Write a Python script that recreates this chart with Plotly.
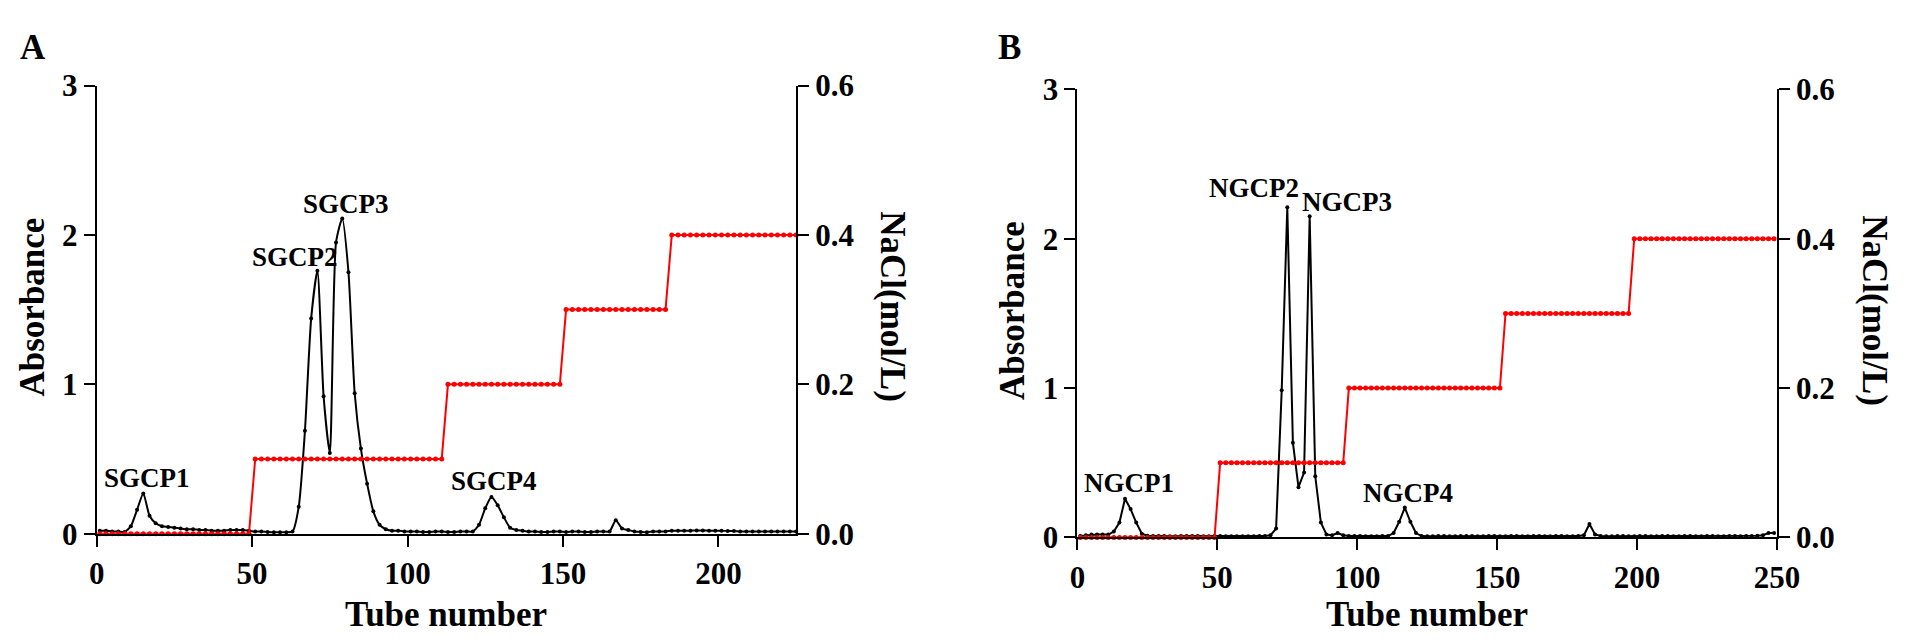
"""Ion-exchange elution profiles (panels A and B): absorbance plus NaCl step gradient."""

import plotly.graph_objects as go

# ---- panel A: tubes sampled every 2 ----------------------------------------------------------
tubes_a = list(range(1, 226, 2))
absorb_a = [
    0.02, 0.02, 0.015, 0.015, 0.012, 0.05, 0.16, 0.27, 0.12, 0.07,
    0.05, 0.045, 0.04, 0.035, 0.03, 0.03, 0.025, 0.025, 0.02, 0.02,
    0.02, 0.025, 0.025, 0.025, 0.02, 0.015, 0.015, 0.012, 0.01, 0.01,
    0.01, 0.015, 0.18, 0.69, 1.44, 1.76, 0.92, 0.54, 1.95, 2.11,
    1.75, 0.94, 0.57, 0.335, 0.15, 0.06, 0.03, 0.02, 0.02, 0.015,
    0.015, 0.015, 0.012, 0.012, 0.015, 0.015, 0.012, 0.012, 0.015, 0.015,
    0.015, 0.06, 0.17, 0.245, 0.19, 0.11, 0.04, 0.025, 0.02, 0.015,
    0.015, 0.012, 0.012, 0.015, 0.015, 0.012, 0.015, 0.015, 0.012, 0.012,
    0.015, 0.015, 0.015, 0.09, 0.035, 0.025, 0.015, 0.012, 0.01, 0.015,
    0.015, 0.015, 0.02, 0.02, 0.02, 0.02, 0.022, 0.022, 0.02, 0.02,
    0.02, 0.018, 0.018, 0.015, 0.015, 0.015, 0.015, 0.015, 0.015, 0.015,
    0.015, 0.015, 0.015,
]
nacl_a = [0.0] * 25 + [0.1] * 31 + [0.2] * 19 + [0.3] * 17 + [0.4] * 21

# ---- panel B ---------------------------------------------------------------------------------
tubes_b = list(range(1, 250, 2))
absorb_b = [
    0.01, 0.015, 0.02, 0.02, 0.02, 0.02, 0.04, 0.10, 0.26, 0.19,
    0.10, 0.025, 0.012, 0.01, 0.01, 0.01, 0.008, 0.008, 0.01, 0.01,
    0.01, 0.01, 0.008, 0.008, 0.01, 0.01, 0.008, 0.008, 0.008, 0.008,
    0.008, 0.008, 0.01, 0.01, 0.015, 0.06, 0.985, 2.21, 0.635, 0.337,
    0.435, 2.15, 0.41, 0.10, 0.02, 0.015, 0.03, 0.015, 0.01, 0.01,
    0.01, 0.008, 0.008, 0.008, 0.01, 0.01, 0.03, 0.105, 0.20, 0.105,
    0.03, 0.01, 0.008, 0.008, 0.01, 0.01, 0.008, 0.008, 0.01, 0.01,
    0.01, 0.008, 0.008, 0.01, 0.01, 0.008, 0.008, 0.01, 0.01, 0.008,
    0.008, 0.01, 0.01, 0.008, 0.008, 0.01, 0.01, 0.008, 0.008, 0.01,
    0.015, 0.09, 0.02, 0.01, 0.008, 0.008, 0.01, 0.01, 0.008, 0.008,
    0.01, 0.01, 0.008, 0.008, 0.01, 0.01, 0.008, 0.008, 0.01, 0.01,
    0.008, 0.008, 0.01, 0.01, 0.008, 0.008, 0.01, 0.01, 0.008, 0.01,
    0.01, 0.012, 0.015, 0.03, 0.03,
]
nacl_b = [0.0] * 25 + [0.1] * 23 + [0.2] * 28 + [0.3] * 23 + [0.4] * 26

# peak labels: (text, tube, absorbance)
peaks_a = [("SGCP1", 16.1, 0.37), ("SGCP2", 63.8, 1.85), ("SGCP3", 80.3, 2.21), ("SGCP4", 127.9, 0.355)]
peaks_b = [("NGCP1", 18.4, 0.364), ("NGCP2", 63.1, 2.34), ("NGCP3", 96.2, 2.244), ("NGCP4", 118.2, 0.30)]

FONT = "Liberation Serif"
W, H = 1907, 643

fig = go.Figure()

# absorbance + NaCl traces for both panels
for xs, ys, nacl, xa, ya, ya2, shape in [
    (tubes_a, absorb_a, nacl_a, "x", "y", "y2", "spline"),
    (tubes_b, absorb_b, nacl_b, "x2", "y3", "y4", "linear"),
]:
    fig.add_trace(
        go.Scatter(
            x=xs, y=nacl, xaxis=xa, yaxis=ya2, mode="lines+markers",
            line=dict(color="#ff0000", width=2),
            marker=dict(color="#ff0000", size=5),
            cliponaxis=False, showlegend=False,
        )
    )
    fig.add_trace(
        go.Scatter(
            x=xs, y=ys, xaxis=xa, yaxis=ya, mode="lines+markers",
            line=dict(color="black", width=2, shape=shape, smoothing=0.6),
            marker=dict(color="black", size=4),
            cliponaxis=False, showlegend=False,
        )
    )

axis_common = dict(
    showline=True, linecolor="black", linewidth=2, ticks="outside", ticklen=11,
    tickwidth=2, tickcolor="black", showgrid=False, zeroline=False,
    tickfont=dict(family=FONT, size=31, color="black", weight="bold"),
)

# pixel positions of the plot boxes
dom_xa = [82 / W, 793 / W]
dom_xb = [1079 / W, 1790 / W]
dom_ya = [1 - 538 / H, 1 - 64 / H]
dom_yb = [1 - 542 / H, 1 - 68 / H]

fig.update_layout(
    width=W, height=H,
    margin=dict(l=0, r=0, t=0, b=0),
    paper_bgcolor="white", plot_bgcolor="white",
    xaxis=dict(domain=dom_xa, range=[0, 225], tickvals=[0, 50, 100, 150, 200], anchor="y", **axis_common),
    yaxis=dict(domain=dom_ya, range=[0, 3], tickvals=[0, 1, 2, 3], anchor="x", **axis_common),
    yaxis2=dict(range=[0, 0.6], tickvals=[0, 0.2, 0.4, 0.6], tickformat=".1f",
                overlaying="y", side="right", anchor="x", **axis_common),
    xaxis2=dict(domain=dom_xb, range=[0, 250], tickvals=[0, 50, 100, 150, 200, 250], anchor="y3", **axis_common),
    yaxis3=dict(domain=dom_yb, range=[0, 3], tickvals=[0, 1, 2, 3], anchor="x2", **axis_common),
    yaxis4=dict(range=[0, 0.6], tickvals=[0, 0.2, 0.4, 0.6], tickformat=".1f",
                overlaying="y3", side="right", anchor="x2", **axis_common),
)

title_font = dict(family=FONT, size=35, color="black", weight="bold")
peak_font = dict(family=FONT, size=27, color="black", weight="bold")

annotations = []
for peaks, xa, ya in [(peaks_a, "x", "y"), (peaks_b, "x2", "y3")]:
    for text, px, py in peaks:
        annotations.append(dict(text=text, x=px, y=py, xref=xa, yref=ya, showarrow=False,
                                xanchor="center", yanchor="middle", font=peak_font))

# titles and panel letters (pixel positions from the reference)
for text, px, py, angle in [
    ("A", 17, 24, 0), ("B", 1010, 24, 0),
    ("Tube number", 437, 623, 0), ("Tube number", 1434, 623, 0),
    ("Absorbance", 17, 298, -90), ("Absorbance", 1013, 302, -90),
    ("NaCl(mol/L)", 891, 298, 90), ("NaCl(mol/L)", 1889, 302, 90),
]:
    annotations.append(dict(text=text, x=px / W, y=1 - py / H, xref="paper", yref="paper",
                            showarrow=False, xanchor="center", yanchor="middle",
                            textangle=angle, font=title_font))

fig.update_layout(annotations=annotations)

fig.write_html("out.html")
